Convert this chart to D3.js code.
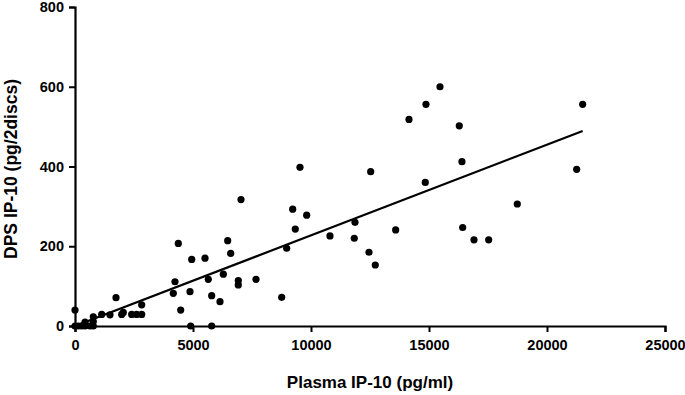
<!DOCTYPE html>
<html><head><meta charset="utf-8">
<script src="https://cdn.jsdelivr.net/npm/d3@7"></script>
<style>
html,body{margin:0;padding:0;background:#fff;}
text{font-family:"Liberation Sans",Arial,sans-serif;font-weight:bold;fill:#000;}
</style></head>
<body><svg id="c" width="685" height="395"></svg>
<script>
const plasmaX = [0,0,140,284,424,424,636,775,775,775,1131,1483,1737,1979,2046,2402,2614,2826,2826,
  4165,4237,4377,4479,4873,4902,4945,5508,5648,5792,5792,6144,6284,6470,6597,6919,6919,7034,7669,
  8758,8970,9224,9334,9533,9817,10804,11864,11834,12457,12724,12529,13588,14152,14872,15465,14842,
  16283,16397,16427,16906,17529,18741,21257,21511];
const dpsY = [40,0,0,0,10,0,0,23,11,0,29,28,71,29,34,29,29,29,53,
  82,111,207,40,86,0,167,170,117,76,0,61,130,214,182,114,103,317,117,
  72,195,293,243,398,278,226,260,220,185,153,387,241,518,556,600,360,
  502,412,247,216,216,306,393,556];
const fitX = [0, 21511];
const fitY = [0, 489];
const xTicks = [0,5000,10000,15000,20000,25000];
const yTicks = [0,200,400,600,800];

const svg = d3.select("#c");
const x = d3.scaleLinear().domain([0,25000]).range([75,665]);
const y = d3.scaleLinear().domain([0,800]).range([326,7]);

const xAxis = svg.append("g").attr("transform","translate(0,326)")
  .call(d3.axisBottom(x).tickValues(xTicks).tickFormat(d3.format("d")).tickSize(6).tickPadding(8));
const yAxis = svg.append("g").attr("transform","translate(75,0)")
  .call(d3.axisLeft(y).tickValues(yTicks).tickFormat(d3.format("d")).tickSize(6).tickPadding(5));
[xAxis,yAxis].forEach(a=>{
  a.selectAll("path").attr("stroke","#000").attr("stroke-width",2.2);
  a.selectAll("line").attr("stroke","#000").attr("stroke-width",2);
  a.selectAll("text").style("font-size","14.5px").style("font-weight","bold").attr("fill","#000");
});

svg.append("g").selectAll("circle").data(plasmaX.map((v,i)=>[v,dpsY[i]])).join("circle")
  .attr("cx",d=>x(d[0])).attr("cy",d=>y(d[1])).attr("r",3.6).attr("fill","#000");

svg.append("path").datum(fitX.map((v,i)=>[v,fitY[i]]))
  .attr("d",d3.line().x(d=>x(d[0])).y(d=>y(d[1])))
  .attr("stroke","#000").attr("stroke-width",2.2).attr("fill","none");

svg.append("text").attr("x",370).attr("y",388).attr("text-anchor","middle")
  .style("font-size","17px").text("Plasma IP-10 (pg/ml)");
svg.append("text").attr("transform","translate(17,169) rotate(-90)").attr("text-anchor","middle")
  .style("font-size","17.5px").text("DPS IP-10 (pg/2discs)");
</script></body></html>
